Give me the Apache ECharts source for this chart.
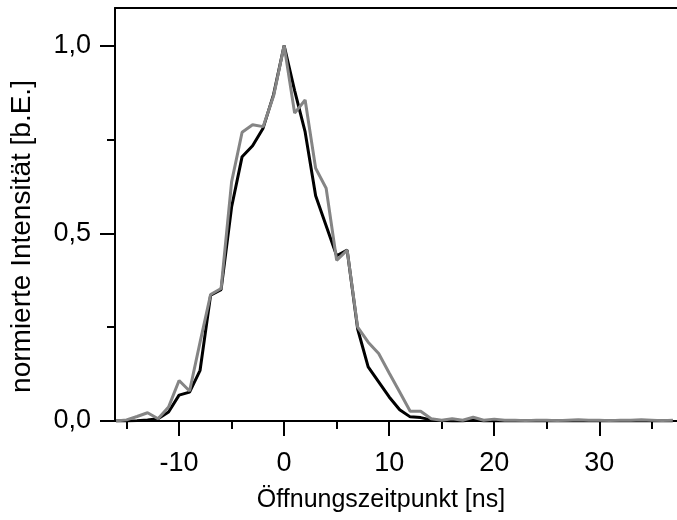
<!DOCTYPE html>
<html>
<head>
<meta charset="utf-8">
<script src="https://cdn.jsdelivr.net/npm/echarts@6/dist/echarts.min.js"></script>
<style>
  html, body { margin: 0; padding: 0; background: #fff; }
  #chart { width: 677px; height: 520px; }
</style>
</head>
<body>
<div id="chart"></div>
<script>
// Zeitachse in ns (ein Punkt pro ns)
const zeit = [-16, -15, -14, -13, -12, -11, -10, -9, -8, -7, -6, -5, -4, -3, -2, -1,
  0, 1, 2, 3, 4, 5, 6, 7, 8, 9, 10, 11, 12, 13, 14, 15, 16, 17, 18, 19, 20,
  21, 22, 23, 24, 25, 26, 27, 28, 29, 30, 31, 32, 33, 34, 35, 36, 37]
// schwarze Kurve
const schwarz = [0, 0, 0.001, 0.003, 0.006, 0.024, 0.069, 0.077, 0.135, 0.335, 0.35, 0.57, 0.704, 0.733, 0.78, 0.87,
  1.0, 0.88, 0.77, 0.60, 0.52, 0.44, 0.455, 0.245, 0.144, 0.104, 0.064, 0.03, 0.011, 0.009, 0.003, 0.001, 0, 0, 0.004, 0, 0,
  0, 0, 0, 0, 0, 0, 0, 0, 0, 0, 0, 0, 0, 0, 0, 0, 0]
// graue Kurve
const grau = [0, 0.003, 0.012, 0.022, 0.006, 0.037, 0.108, 0.08, 0.21, 0.337, 0.353, 0.637, 0.769, 0.789, 0.784, 0.866,
  1.0, 0.82, 0.855, 0.673, 0.62, 0.428, 0.455, 0.25, 0.21, 0.18, 0.128, 0.077, 0.026, 0.026, 0.006, 0.002, 0.006, 0.002, 0.01, 0.002, 0.005,
  0.002, 0.002, 0.001, 0.002, 0.002, 0.001, 0.002, 0.003, 0.002, 0.002, 0.001, 0.002, 0.002, 0.003, 0.002, 0.001, 0.002]
// Achsenbeschriftungen
const xTicks = [-10, 0, 10, 20, 30]
const xMinorTicks = [-15, -5, 5, 15, 25, 35]
const yTicks = [0, 0.5, 1.0]
const yMinorTicks = [0.25, 0.75]

const chart = echarts.init(document.getElementById('chart'))
const schrift = 'Liberation Sans, Arial, sans-serif'
const linie = { onZero: false, lineStyle: { color: '#000', width: 2 } }

const option = {
  animation: false,
  grid: { left: 115, right: 0, top: 8, bottom: 99, outerBoundsMode: 'none' },
  xAxis: [
    {
      type: 'value', min: -16.1, max: 37.4, position: 'bottom',
      name: 'Öffnungszeitpunkt [ns]', nameLocation: 'middle', nameGap: 67,
      nameTextStyle: { fontFamily: schrift, fontSize: 25, color: '#000', padding: [0, 30, 0, 0] },
      axisLine: linie,
      splitLine: { show: false },
      axisTick: { length: 15, customValues: xTicks, lineStyle: { color: '#000', width: 2 } },
      axisLabel: { customValues: xTicks, margin: 29, fontFamily: schrift, fontSize: 27, color: '#000' }
    },
    {
      // Zwischenstriche
      type: 'value', min: -16.1, max: 37.4, position: 'bottom',
      axisLine: { show: false, onZero: false }, splitLine: { show: false },
      axisTick: { length: 8, customValues: xMinorTicks, lineStyle: { color: '#000', width: 2 } },
      axisLabel: { show: false }
    },
    {
      // oberer Rahmen
      type: 'value', min: -16.1, max: 37.4, position: 'top',
      axisLine: linie, axisTick: { show: false }, axisLabel: { show: false }, splitLine: { show: false }
    }
  ],
  yAxis: [
    {
      type: 'value', min: 0, max: 1.1, position: 'left',
      name: 'normierte Intensität [b.E.]', nameLocation: 'middle', nameGap: 79,
      nameTextStyle: { fontFamily: schrift, fontSize: 28, color: '#000', padding: [0, 44, 0, 0] },
      axisLine: { show: true, onZero: false, lineStyle: { color: '#000', width: 2 } },
      splitLine: { show: false },
      axisTick: { length: 15, customValues: yTicks, lineStyle: { color: '#000', width: 2 } },
      axisLabel: {
        customValues: yTicks, margin: 24, fontFamily: schrift, fontSize: 27, color: '#000',
        formatter: v => v.toFixed(1).replace('.', ',')
      }
    },
    {
      type: 'value', min: 0, max: 1.1, position: 'left',
      axisLine: { show: false, onZero: false }, splitLine: { show: false },
      axisTick: { show: true, length: 8, customValues: yMinorTicks, lineStyle: { color: '#000', width: 2 } },
      axisLabel: { show: false }
    }
  ],
  series: [
    {
      type: 'line', name: 'schwarz', showSymbol: false, symbol: 'none',
      data: zeit.map((x, i) => [x, schwarz[i]]),
      lineStyle: { color: '#000', width: 3 }
    },
    {
      type: 'line', name: 'grau', showSymbol: false, symbol: 'none',
      data: zeit.map((x, i) => [x, grau[i]]),
      lineStyle: { color: '#858585', width: 3 }
    }
  ]
}
chart.setOption(option)
</script>
</body>
</html>
